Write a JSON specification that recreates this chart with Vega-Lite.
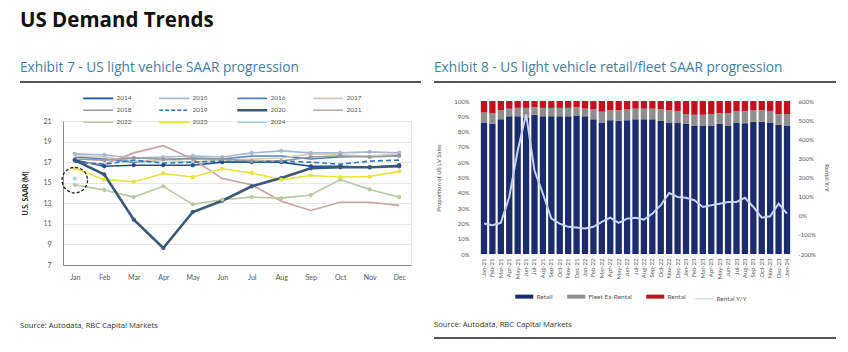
{
  "$schema": "https://vega.github.io/schema/vega-lite/v6.json",
  "background": "white",
  "padding": {"left": 20, "top": 10, "right": 0, "bottom": 0},
  "autosize": {"type": "pad"},
  "config": {
    "font": "Lato",
    "view": {"stroke": null},
    "axis": {"labelFont": "Lato", "titleFont": "Lato", "labelColor": "#555", "domain": false, "ticks": false, "grid": false},
    "legend": {"labelFont": "Lato", "padding": 0},
    "title": {"font": "Open Sans"}
  },
  "title": {"text": "US Demand Trends", "anchor": "start", "fontSize": 20.5, "fontWeight": "bold", "color": "#111", "offset": 30},
  "spacing": 13,
  "resolve": {"scale": {"color": "independent"}, "legend": {"color": "independent"}},
  "hconcat": [
    {
      "spacing": 41,
      "resolve": {"scale": {"color": "independent"}, "legend": {"color": "independent"}},
      "vconcat": [
        {
          "spacing": 11,
          "resolve": {"scale": {"color": "independent"}, "legend": {"color": "independent"}},
          "vconcat": [
            {
              "width": 401, "height": 2,
              "title": {"text": "Exhibit 7 - US light vehicle SAAR progression", "anchor": "start", "fontSize": 13.7, "fontWeight": "normal", "color": "#3f7fa3", "offset": 6},
              "view": {"fill": "#555", "stroke": null},
              "data": {"values": []},
              "mark": "rule",
              "encoding": {}
            },
            {
              "spacing": 0,
              "resolve": {"scale": {"color": "independent"}, "legend": {"color": "independent"}},
              "hconcat": [
                {
                  "width": 1, "height": 144,
                  "view": {"fill": null, "stroke": null},
                  "data": {"values": []},
                  "mark": "rule",
                  "encoding": {}
                },
                {
                  "width": 348, "height": 144,
                  "view": {"stroke": "#e3e3e3"},
                  "data": {"values": [
                    {"m": "Jan", "2014": 17.2, "2015": 17.8, "2016": 17.5, "2017": 17.6, "2018": 17.3, "2019": 17.0, "2020": 17.2, "2021": 17.0, "2022": 14.8, "2023": 16.4, "2024": 15.4},
                    {"m": "Feb", "2014": 16.6, "2015": 17.7, "2016": 17.3, "2017": 17.5, "2018": 17.2, "2019": 16.8, "2020": 15.8, "2021": 16.8, "2022": 14.3, "2023": 15.3},
                    {"m": "Mar", "2014": 16.7, "2015": 17.4, "2016": 17.0, "2017": 17.1, "2018": 17.4, "2019": 17.2, "2020": 11.4, "2021": 17.9, "2022": 13.6, "2023": 15.1},
                    {"m": "Apr", "2014": 16.7, "2015": 17.5, "2016": 17.2, "2017": 17.2, "2018": 17.3, "2019": 16.9, "2020": 8.65, "2021": 18.6, "2022": 14.65, "2023": 15.9},
                    {"m": "May", "2014": 16.7, "2015": 17.6, "2016": 17.4, "2017": 17.0, "2018": 17.3, "2019": 17.0, "2020": 12.15, "2021": 17.3, "2022": 12.9, "2023": 15.55},
                    {"m": "Jun", "2014": 17.0, "2015": 17.5, "2016": 17.3, "2017": 17.2, "2018": 17.3, "2019": 17.1, "2020": 13.25, "2021": 15.4, "2022": 13.35, "2023": 16.35},
                    {"m": "Jul", "2014": 17.0, "2015": 17.9, "2016": 17.6, "2017": 17.3, "2018": 17.1, "2019": 17.0, "2020": 14.65, "2021": 14.8, "2022": 13.6, "2023": 15.95},
                    {"m": "Aug", "2014": 17.0, "2015": 18.1, "2016": 17.6, "2017": 17.4, "2018": 17.1, "2019": 17.1, "2020": 15.45, "2021": 13.2, "2022": 13.5, "2023": 15.3},
                    {"m": "Sep", "2014": 16.6, "2015": 17.9, "2016": 17.3, "2017": 17.8, "2018": 17.5, "2019": 17.0, "2020": 16.4, "2021": 12.3, "2022": 13.8, "2023": 15.7},
                    {"m": "Oct", "2014": 16.6, "2015": 17.9, "2016": 17.5, "2017": 17.7, "2018": 17.6, "2019": 16.8, "2020": 16.5, "2021": 13.1, "2022": 15.3, "2023": 15.55},
                    {"m": "Nov", "2014": 16.5, "2015": 18.0, "2016": 17.6, "2017": 17.6, "2018": 17.5, "2019": 17.1, "2020": 16.5, "2021": 13.1, "2022": 14.35, "2023": 15.6},
                    {"m": "Dec", "2014": 16.7, "2015": 17.9, "2016": 17.6, "2017": 17.8, "2018": 17.6, "2019": 17.2, "2020": 16.6, "2021": 12.8, "2022": 13.6, "2023": 16.1}
                  ]},
                  "encoding": {
                    "x": {"field": "m", "type": "ordinal", "sort": ["Jan", "Feb", "Mar", "Apr", "May", "Jun", "Jul", "Aug", "Sep", "Oct", "Nov", "Dec"], "scale": {"type": "point", "padding": 0.4},
                      "axis": {"title": null, "labelAngle": 0, "labelFontSize": 7, "labelPadding": 8, "domain": true, "domainColor": "#8a8a8a"}},
                    "y": {"field": "saar", "type": "quantitative", "scale": {"domain": [7, 21]},
                      "axis": {"values": [7, 9, 11, 13, 15, 17, 19, 21], "title": "U.S. SAAR (M)", "titleFontSize": 7, "titleFontWeight": "bold", "titleColor": "#222", "labelFontSize": 7, "labelPadding": 12, "titlePadding": 14, "grid": true, "gridColor": "#e8e8e8", "domain": true, "domainColor": "#8a8a8a"}},
                    "color": {"field": "year", "type": "nominal",
                      "scale": {"domain": ["2014", "2015", "2016", "2017", "2018", "2019", "2020", "2021", "2022", "2023", "2024"],
                        "range": ["#1f4e8c", "#a9b8cc", "#4f81bd", "#d3cbbb", "#9a9a9a", "#2e75b6", "#3b5877", "#c9a3a3", "#b8c9a2", "#e8e23a", "#a6d3ea"]},
                      "legend": {"title": null, "orient": "none", "legendX": 32, "legendY": -26, "columns": 4, "direction": "horizontal", "symbolType": "M-5,0H5", "symbolSize": 36, "symbolStrokeWidth": 1.6, "labelFontSize": 6.5, "labelColor": "#555", "columnPadding": 24, "rowPadding": 3, "labelOffset": 15,
                        "encode": {"symbols": {"update": {
                          "strokeDash": {"signal": "datum.value === '2019' ? [4, 2] : [1, 0]"},
                          "strokeWidth": {"signal": "datum.value === '2020' ? 2.4 : 1.6"}
                        }}}}
                    }
                  },
                  "layer": [
                    {
                      "transform": [
                        {"fold": ["2014", "2015", "2016", "2017", "2018", "2019", "2020", "2021", "2022", "2023", "2024"], "as": ["year", "saar"]},
                        {"filter": {"field": "saar", "valid": true}},
                        {"filter": {"field": "year", "oneOf": ["2014", "2015", "2016", "2017", "2018", "2021", "2022", "2023", "2024"]}}
                      ],
                      "mark": {"type": "line", "strokeWidth": 1.6}
                    },
                    {
                      "transform": [
                        {"fold": ["2014", "2015", "2016", "2017", "2018", "2019", "2020", "2021", "2022", "2023", "2024"], "as": ["year", "saar"]},
                        {"filter": {"field": "saar", "valid": true}},
                        {"filter": {"field": "year", "equal": "2019"}}
                      ],
                      "mark": {"type": "line", "strokeWidth": 1.6, "strokeDash": [5, 3]}
                    },
                    {
                      "transform": [
                        {"fold": ["2014", "2015", "2016", "2017", "2018", "2019", "2020", "2021", "2022", "2023", "2024"], "as": ["year", "saar"]},
                        {"filter": {"field": "saar", "valid": true}},
                        {"filter": {"field": "year", "equal": "2020"}}
                      ],
                      "mark": {"type": "line", "strokeWidth": 2.6}
                    },
                    {
                      "transform": [
                        {"fold": ["2014", "2015", "2016", "2017", "2018", "2019", "2020", "2021", "2022", "2023", "2024"], "as": ["year", "saar"]},
                        {"filter": {"field": "saar", "valid": true}},
                        {"filter": {"field": "year", "oneOf": ["2014", "2015", "2018", "2020", "2022", "2023", "2024"]}}
                      ],
                      "mark": {"type": "point", "filled": true, "size": 18, "opacity": 1}
                    },
                    {
                      "data": {"values": [{"m": "Jan", "saar": 15.25}]},
                      "mark": {"type": "point", "shape": "circle", "size": 650, "filled": false, "strokeDash": [3, 2], "strokeWidth": 1.3, "opacity": 1},
                      "encoding": {"color": {"value": "#222"}}
                    }
                  ]
                }
              ]
            }
          ]
        },
        {
          "width": 401, "height": 1,
          "title": {"text": "Source: Autodata, RBC Capital Markets", "anchor": "start", "fontSize": 7.7, "fontWeight": "normal", "color": "#333", "offset": 8},
          "view": {"fill": null, "stroke": null},
          "data": {"values": []},
          "mark": "rule",
          "encoding": {}
        }
      ]
    },
    {
      "spacing": 16,
      "resolve": {"scale": {"color": "independent"}, "legend": {"color": "independent"}},
      "vconcat": [
        {
          "spacing": 15,
          "resolve": {"scale": {"color": "independent"}, "legend": {"color": "independent"}},
          "vconcat": [
            {
              "width": 402, "height": 2,
              "title": {"text": "Exhibit 8 - US light vehicle retail/fleet SAAR progression", "anchor": "start", "fontSize": 13.7, "fontWeight": "normal", "color": "#3f7fa3", "offset": 6},
              "view": {"fill": "#555", "stroke": null},
              "data": {"values": []},
              "mark": "rule",
              "encoding": {}
            },
            {
              "spacing": 0,
              "resolve": {"scale": {"color": "independent"}, "legend": {"color": "independent"}},
              "hconcat": [
                {
                  "width": 1, "height": 153,
                  "view": {"fill": null, "stroke": null},
                  "data": {"values": []},
                  "mark": "rule",
                  "encoding": {}
                },
                {
                  "width": 311, "height": 153,
                  "data": {"values": [
                    {"m": "Jan-21", "Retail": 86, "Fleet Ex-Rental": 6.5, "Rental": 7.5, "yoy": -41},
                    {"m": "Feb-21", "Retail": 85, "Fleet Ex-Rental": 7, "Rental": 8, "yoy": -49},
                    {"m": "Mar-21", "Retail": 88, "Fleet Ex-Rental": 6, "Rental": 6, "yoy": -37},
                    {"m": "Apr-21", "Retail": 90, "Fleet Ex-Rental": 5, "Rental": 5, "yoy": 98},
                    {"m": "May-21", "Retail": 90, "Fleet Ex-Rental": 5.5, "Rental": 4.5, "yoy": 340},
                    {"m": "Jun-21", "Retail": 89, "Fleet Ex-Rental": 6.5, "Rental": 4.5, "yoy": 531},
                    {"m": "Jul-21", "Retail": 91, "Fleet Ex-Rental": 5, "Rental": 4, "yoy": 236},
                    {"m": "Aug-21", "Retail": 90, "Fleet Ex-Rental": 5.5, "Rental": 4.5, "yoy": 115},
                    {"m": "Sep-21", "Retail": 90, "Fleet Ex-Rental": 5.5, "Rental": 4.5, "yoy": -15},
                    {"m": "Oct-21", "Retail": 90, "Fleet Ex-Rental": 5.5, "Rental": 4.5, "yoy": -41},
                    {"m": "Nov-21", "Retail": 90, "Fleet Ex-Rental": 5.5, "Rental": 4.5, "yoy": -58},
                    {"m": "Dec-21", "Retail": 90.5, "Fleet Ex-Rental": 5.5, "Rental": 4, "yoy": -61},
                    {"m": "Jan-22", "Retail": 90, "Fleet Ex-Rental": 5, "Rental": 5, "yoy": -67},
                    {"m": "Feb-22", "Retail": 88, "Fleet Ex-Rental": 6.5, "Rental": 5.5, "yoy": -58},
                    {"m": "Mar-22", "Retail": 86, "Fleet Ex-Rental": 7, "Rental": 7, "yoy": -32},
                    {"m": "Apr-22", "Retail": 87.5, "Fleet Ex-Rental": 6.5, "Rental": 6, "yoy": -10},
                    {"m": "May-22", "Retail": 87, "Fleet Ex-Rental": 7, "Rental": 6, "yoy": -37},
                    {"m": "Jun-22", "Retail": 87.5, "Fleet Ex-Rental": 7, "Rental": 5.5, "yoy": -15},
                    {"m": "Jul-22", "Retail": 88, "Fleet Ex-Rental": 7, "Rental": 5, "yoy": -10},
                    {"m": "Aug-22", "Retail": 88, "Fleet Ex-Rental": 7, "Rental": 5, "yoy": -20},
                    {"m": "Sep-22", "Retail": 88, "Fleet Ex-Rental": 7, "Rental": 5, "yoy": 11},
                    {"m": "Oct-22", "Retail": 87, "Fleet Ex-Rental": 7.5, "Rental": 5.5, "yoy": 55},
                    {"m": "Nov-22", "Retail": 86, "Fleet Ex-Rental": 8, "Rental": 6, "yoy": 119},
                    {"m": "Dec-22", "Retail": 86, "Fleet Ex-Rental": 7.5, "Rental": 6.5, "yoy": 98},
                    {"m": "Jan-23", "Retail": 85, "Fleet Ex-Rental": 6.5, "Rental": 8.5, "yoy": 94},
                    {"m": "Feb-23", "Retail": 84, "Fleet Ex-Rental": 7, "Rental": 9, "yoy": 81},
                    {"m": "Mar-23", "Retail": 84, "Fleet Ex-Rental": 7, "Rental": 9, "yoy": 46},
                    {"m": "Apr-23", "Retail": 84, "Fleet Ex-Rental": 7.5, "Rental": 8.5, "yoy": 55},
                    {"m": "May-23", "Retail": 85, "Fleet Ex-Rental": 7, "Rental": 8, "yoy": 63},
                    {"m": "Jun-23", "Retail": 84, "Fleet Ex-Rental": 8, "Rental": 8, "yoy": 72},
                    {"m": "Jul-23", "Retail": 86, "Fleet Ex-Rental": 7.5, "Rental": 6.5, "yoy": 72},
                    {"m": "Aug-23", "Retail": 85.5, "Fleet Ex-Rental": 8, "Rental": 6.5, "yoy": 94},
                    {"m": "Sep-23", "Retail": 86.5, "Fleet Ex-Rental": 7.5, "Rental": 6, "yoy": 46},
                    {"m": "Oct-23", "Retail": 86.5, "Fleet Ex-Rental": 7.5, "Rental": 6, "yoy": -10},
                    {"m": "Nov-23", "Retail": 86, "Fleet Ex-Rental": 7.5, "Rental": 6.5, "yoy": -3},
                    {"m": "Dec-23", "Retail": 84.5, "Fleet Ex-Rental": 7, "Rental": 8.5, "yoy": 63},
                    {"m": "Jan-24", "Retail": 84, "Fleet Ex-Rental": 7.5, "Rental": 8.5, "yoy": 11}
                  ]},
                  "encoding": {
                    "x": {"field": "m", "type": "ordinal", "sort": null, "scale": {"paddingInner": 0.25, "paddingOuter": 0.1},
                      "axis": {"title": null, "labelAngle": -90, "labelFontSize": 6, "labelPadding": 4, "labelColor": "#555"}}
                  },
                  "layer": [
                    {
                      "transform": [
                        {"fold": ["Retail", "Fleet Ex-Rental", "Rental"], "as": ["type", "share"]},
                        {"window": [{"op": "row_number", "as": "k"}], "groupby": ["m"]}
                      ],
                      "mark": {"type": "bar"},
                      "encoding": {
                        "y": {"field": "share", "type": "quantitative", "stack": "zero", "scale": {"domain": [0, 100]},
                          "axis": {"values": [0, 10, 20, 30, 40, 50, 60, 70, 80, 90, 100], "labelExpr": "datum.value + '%'", "title": "Proportion of US LV Sales", "titleFontSize": 6, "titleFontWeight": "normal", "titleColor": "#555", "labelFontSize": 6, "labelPadding": 11, "titlePadding": 12}},
                        "order": {"field": "k", "type": "quantitative", "sort": "ascending"},
                        "color": {"field": "type", "type": "nominal",
                          "scale": {"domain": ["Retail", "Fleet Ex-Rental", "Rental", "Rental Y/Y"], "range": ["#1b2b6c", "#8e8e8e", "#c4101c", "#c5d3ee"]},
                          "legend": {"title": null, "orient": "none", "legendX": 41, "legendY": 192, "direction": "horizontal", "symbolType": "M-3,0H3", "symbolSize": 36, "symbolStrokeWidth": 4, "labelFontSize": 6.5, "labelColor": "#555", "columnPadding": 6, "labelOffset": 9,
                            "encode": {"symbols": {"update": {
                              "strokeWidth": {"signal": "datum.value === 'Rental Y/Y' ? 1.2 : 4"},
                              "stroke": {"signal": "datum.value === 'Retail' ? '#1b2b6c' : datum.value === 'Fleet Ex-Rental' ? '#8e8e8e' : datum.value === 'Rental' ? '#c4101c' : '#b9c8e6'"}
                            }}}}}
                      }
                    },
                    {
                      "mark": {"type": "line", "strokeWidth": 2},
                      "encoding": {
                        "y": {"field": "yoy", "type": "quantitative", "scale": {"domain": [-200, 600]},
                          "axis": {"orient": "right", "values": [-200, -100, 0, 100, 200, 300, 400, 500, 600], "labelExpr": "datum.value + '%'", "title": "Rental Y/Y", "titleFontSize": 6, "titleFontWeight": "normal", "titleColor": "#555", "labelFontSize": 6, "labelPadding": 7, "titlePadding": 8}},
                        "color": {"datum": "Rental Y/Y"}
                      }
                    }
                  ],
                  "resolve": {"scale": {"y": "independent"}}
                }
              ]
            }
          ]
        },
        {
          "width": 402, "height": 2,
          "title": {"text": "Source: Autodata, RBC Capital Markets", "anchor": "start", "fontSize": 7.7, "fontWeight": "normal", "color": "#333", "offset": 8},
          "view": {"fill": "#555", "stroke": null},
          "data": {"values": []},
          "mark": "rule",
          "encoding": {}
        }
      ]
    }
  ]
}
